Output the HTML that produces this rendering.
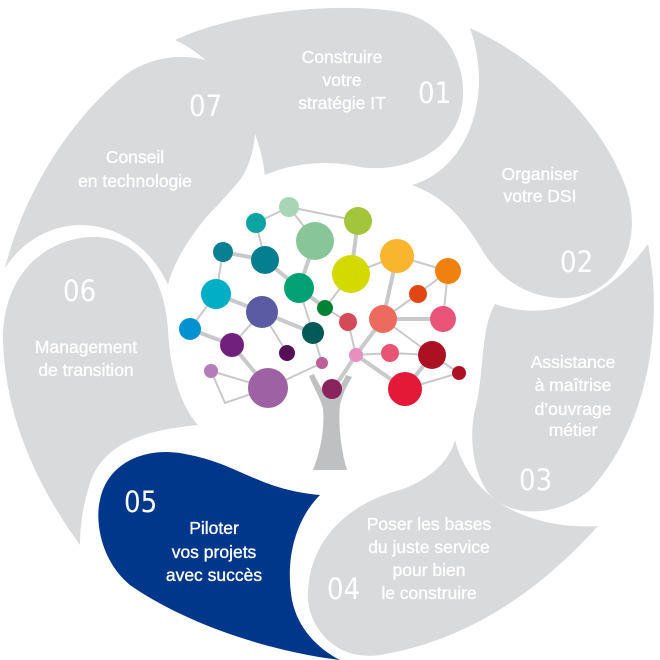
<!DOCTYPE html>
<html><head><meta charset="utf-8"><style>
html,body{margin:0;padding:0;background:#fff;}
svg{display:block;}
text{font-family:"Liberation Sans",sans-serif;fill:#fff;}
.t{font-size:17.5px;text-anchor:middle;stroke:#fff;stroke-width:0.35px;}
.n{font-size:29px;font-family:"DejaVu Sans Condensed","Liberation Sans Narrow","Liberation Sans",sans-serif;font-weight:200;}
</style></head><body>
<svg width="660" height="660" viewBox="0 0 660 660" xmlns="http://www.w3.org/2000/svg">
<g fill="#d9dadb">
<path d="M175,40 C240,10 340,2 400,12 C450,22 468,70 462,105 C455,150 410,170 370,168 C330,165 290,165 265,177 C260,120 220,60 175,40 Z"/>
<path d="M470,28 C540,60 600,120 625,185 C645,240 620,292 570,298 C530,300 500,280 482,250 C462,215 440,195 412,185 C465,170 495,100 470,28 Z"/>
<path d="M648,244 C665,330 645,430 590,490 C560,515 515,520 490,495 C470,470 470,430 475,410 C485,370 480,330 495,304 C540,320 600,310 648,244 Z"/>
<path d="M598,526 C540,590 470,640 380,655 C330,662 305,620 308,590 C312,530 360,500 400,490 C430,480 450,460 455,440 C470,500 530,530 598,526 Z"/>
<path d="M80,545 C40,490 5,420 3,340 C2,280 40,240 90,237 C140,235 165,280 168,330 C170,370 180,405 198,425 C150,430 100,440 88,490 C82,510 80,530 80,545 Z"/>
<path d="M5,268 C25,190 70,120 125,75 C160,50 210,50 240,80 C265,110 255,160 240,180 C215,210 180,240 168,285 C150,245 115,225 80,225 C45,226 20,245 5,268 Z"/>
</g>
<circle cx="325" cy="320" r="157" fill="#fff"/>
<path fill="#00378a" d="M320,495 C295,520 285,560 292,600 C298,630 320,650 340,660 C260,650 180,620 130,585 C100,560 95,520 100,500 C108,460 150,445 190,455 C240,465 260,490 320,495 Z"/>
<path fill="#bfc0c2" d="M313,470 L347,470 C341,450 338,425 340,405 C343,392 348,384 352,377 L346,375 C340,388 334,395 331,398 C327,395 320,388 314,374 L309,376 C314,388 320,398 323,408 C325,430 320,452 313,470 Z"/>
<g stroke="#c8c9cb" stroke-width="2" fill="none">
<line x1="289" y1="207" x2="256" y2="223"/><line x1="289" y1="207" x2="358" y2="221"/><line x1="289" y1="207" x2="315" y2="241"/>
<line x1="256" y1="223" x2="265" y2="260"/><line x1="223" y1="252" x2="216" y2="294"/><line x1="351" y1="274" x2="325" y2="308"/>
<line x1="397" y1="256" x2="351" y2="274"/><line x1="397" y1="256" x2="448" y2="271"/><line x1="448" y1="271" x2="443" y2="319"/>
<line x1="448" y1="271" x2="418" y2="294"/><line x1="418" y1="294" x2="383" y2="319"/><line x1="325" y1="308" x2="348" y2="322"/>
<line x1="348" y1="322" x2="356" y2="355"/><line x1="383" y1="319" x2="432" y2="355"/><line x1="356" y1="355" x2="390" y2="353"/>
<line x1="390" y1="353" x2="432" y2="355"/><line x1="405" y1="389" x2="459" y2="373"/><line x1="432" y1="355" x2="459" y2="373"/>
<line x1="216" y1="294" x2="190" y2="329"/><line x1="262" y1="312" x2="232" y2="345"/><line x1="262" y1="312" x2="287" y2="353"/>
<polyline points="211,371 268,388"/><polyline points="211,371 225,403 268,388"/><line x1="268" y1="388" x2="322" y2="363"/>
<line x1="299" y1="288" x2="313" y2="333"/><line x1="313" y1="333" x2="322" y2="363"/>
</g>
<g stroke="#c8c9cb" stroke-width="4" fill="none">
<line x1="223" y1="252" x2="265" y2="260"/><line x1="265" y1="260" x2="299" y2="288"/><line x1="315" y1="241" x2="299" y2="288"/>
<line x1="358" y1="221" x2="351" y2="274"/><line x1="397" y1="256" x2="383" y2="319"/><line x1="383" y1="319" x2="443" y2="319"/>
<line x1="383" y1="319" x2="356" y2="355"/><line x1="432" y1="355" x2="405" y2="389"/><line x1="356" y1="355" x2="405" y2="389"/>
<line x1="356" y1="355" x2="336" y2="385"/><line x1="216" y1="294" x2="262" y2="312"/><line x1="190" y1="329" x2="232" y2="345"/>
<line x1="262" y1="312" x2="313" y2="333"/><line x1="232" y1="345" x2="268" y2="388"/><line x1="299" y1="288" x2="325" y2="308"/>
</g>
<g>
<circle cx="289" cy="207" r="10" fill="#a8d5b5"/><circle cx="256" cy="223" r="10" fill="#0ca3a3"/>
<circle cx="358" cy="221" r="14" fill="#a2c53c"/><circle cx="315" cy="241" r="19" fill="#88c69a"/>
<circle cx="223" cy="252" r="10" fill="#088091"/><circle cx="265" cy="260" r="14" fill="#047f8f"/>
<circle cx="351" cy="274" r="19" fill="#d4da00"/><circle cx="397" cy="256" r="17" fill="#f8b52d"/>
<circle cx="448" cy="271" r="13" fill="#f0810e"/><circle cx="299" cy="288" r="15" fill="#01a175"/>
<circle cx="216" cy="294" r="15" fill="#00afc6"/><circle cx="418" cy="294" r="9" fill="#e24612"/>
<circle cx="325" cy="308" r="8" fill="#028233"/><circle cx="262" cy="312" r="16" fill="#5b5ba4"/>
<circle cx="348" cy="322" r="9" fill="#d44b58"/><circle cx="383" cy="319" r="14" fill="#ec6a5e"/>
<circle cx="443" cy="319" r="13" fill="#e95478"/><circle cx="190" cy="329" r="11" fill="#0291d1"/>
<circle cx="313" cy="333" r="11" fill="#015a57"/><circle cx="232" cy="345" r="12" fill="#72207e"/>
<circle cx="287" cy="353" r="8" fill="#561058"/><circle cx="356" cy="355" r="7" fill="#e98fbe"/>
<circle cx="390" cy="353" r="9" fill="#e75474"/><circle cx="432" cy="355" r="14" fill="#ab1123"/>
<circle cx="322" cy="363" r="6" fill="#be5f97"/><circle cx="211" cy="371" r="7" fill="#b47cb8"/>
<circle cx="459" cy="373" r="7" fill="#ab1123"/><circle cx="268" cy="388" r="20" fill="#9e62a4"/>
<circle cx="332" cy="389" r="10" fill="#8a245e"/><circle cx="405" cy="389" r="17" fill="#e31937"/>
</g>
<text class="t"><tspan x="342" y="63">Construire</tspan><tspan x="342" y="86">votre</tspan><tspan x="342" y="109">stratégie IT</tspan></text>
<text class="n" x="418" y="103">01</text>
<text class="t"><tspan x="135" y="163">Conseil</tspan><tspan x="135" y="187">en technologie</tspan></text>
<text class="n" x="189" y="116">07</text>
<text class="t"><tspan x="540" y="180">Organiser</tspan><tspan x="540" y="202">votre DSI</tspan></text>
<text class="n" x="560" y="272">02</text>
<text class="t"><tspan x="573" y="368">Assistance</tspan><tspan x="573" y="391">à maîtrise</tspan><tspan x="573" y="415">d’ouvrage</tspan><tspan x="573" y="436">métier</tspan></text>
<text class="n" x="519" y="490">03</text>
<text class="t"><tspan x="429" y="530">Poser les bases</tspan><tspan x="429" y="553">du juste service</tspan><tspan x="429" y="576">pour bien</tspan><tspan x="429" y="599">le construire</tspan></text>
<text class="n" x="327" y="599">04</text>
<text class="n" x="124" y="512">05</text>
<text class="t"><tspan x="214" y="534">Piloter</tspan><tspan x="214" y="558">vos projets</tspan><tspan x="214" y="581">avec succès</tspan></text>
<text class="n" x="63" y="301">06</text>
<text class="t"><tspan x="86" y="353">Management</tspan><tspan x="86" y="376">de transition</tspan></text>
</svg>
</body></html>
